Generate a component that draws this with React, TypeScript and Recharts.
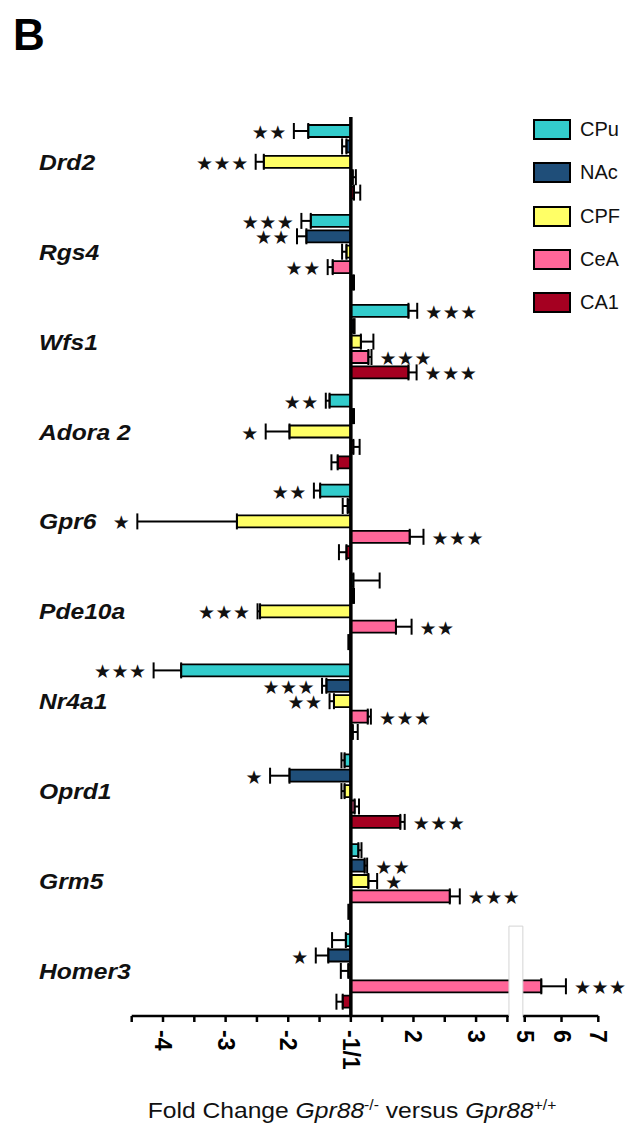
import React from 'react'
import {
  BarChart,
  Bar,
  XAxis,
  YAxis,
  ErrorBar,
  LabelList,
  ReferenceLine,
  ReferenceArea
} from 'recharts'

const FONT = "Arial, 'Liberation Sans', sans-serif"

const genes = ['Drd2', 'Rgs4', 'Wfs1', 'Adora 2', 'Gpr6', 'Pde10a', 'Nr4a1', 'Oprd1', 'Grm5', 'Homer3']
const regions = ['CPu', 'NAc', 'CPF', 'CeA', 'CA1']
const regionColors = ['#33CCCC', '#1F4E79', '#FFFF66', '#FF6699', '#A50021']

// fold change (negative = down), SEM, number of stars ; one value per gene
const cpuFold = [-1.68, -1.64, 1.92, -1.34, -1.49, 1.04, -3.71, -1.1, 1.12, -1.08]
const cpuSem = [0.23, 0.15, 0.14, 0.06, 0.1, 0.42, 0.44, 0.05, 0.05, 0.22]
const cpuStars = [2, 3, 3, 2, 2, 0, 3, 0, 0, 0]

const nacFold = [-1.07, -1.71, 1.04, 1.03, -1.05, 1.03, -1.39, -1.98, 1.22, -1.36]
const nacSem = [0.07, 0.15, 0.02, 0.02, 0.08, 0.02, 0.07, 0.31, 0.04, 0.2]
const nacStars = [0, 2, 0, 0, 0, 0, 3, 1, 2, 1]

const cpfFold = [-2.39, -1.07, 1.16, -1.98, -2.82, -2.45, -1.27, -1.1, 1.28, -1.04]
const cpfSem = [0.13, 0.07, 0.2, 0.38, 1.59, 0.04, 0.07, 0.05, 0.14, 0.12]
const cpfStars = [3, 0, 0, 1, 1, 3, 2, 0, 1, 0]

const ceaFold = [1.03, -1.29, 1.28, 1.04, 1.94, 1.72, 1.27, 1.06, 2.58, 5.45]
const ceaSem = [0.05, 0.08, 0.05, 0.1, 0.22, 0.25, 0.05, 0.07, 0.16, 0.67]
const ceaStars = [0, 2, 3, 0, 3, 2, 3, 0, 3, 3]

const ca1Fold = [1.05, 1.03, 1.92, -1.21, -1.07, -1.02, 1.03, 1.79, -1.02, -1.13]
const ca1Sem = [0.1, 0.02, 0.13, 0.1, 0.12, 0.02, 0.08, 0.07, 0.02, 0.1]
const ca1Stars = [0, 0, 3, 0, 0, 0, 0, 3, 0, 0]

const folds = [cpuFold, nacFold, cpfFold, ceaFold, ca1Fold]
const sems = [cpuSem, nacSem, cpfSem, ceaSem, ca1Sem]
const stars = [cpuStars, nacStars, cpfStars, ceaStars, ca1Stars]

// axis ticks (fold change) and their labels
const tickFolds = [-4.5, -4, -3.5, -3, -2.5, -2, -1.5, -1, 1.5, 2, 2.5, 3, 3.5, 5, 6, 7]
const tickLabels = ['', '-4', '', '-3', '', '-2', '', '-1/1', '', '2', '', '3', '', '5', '6', '7']

// broken axis: -1 and 1 share the same point, compressed part after 5
const BREAK_LOW = 3.5
const BREAK_HIGH = 5
const BREAK_GAP = 0.277
const HIGH_SCALE = 0.5875

function toAxis(fc: number): number {
  if (fc <= -1) return fc + 1
  if (fc <= BREAK_LOW) return fc - 1
  if (fc < BREAK_HIGH) return BREAK_LOW - 1
  return BREAK_LOW - 1 + BREAK_GAP + (fc - BREAK_HIGH) * HIGH_SCALE
}

const tickAxis = tickFolds.map(toAxis)

const rows = genes.map((gene, i) => {
  const row: any = { gene }
  regions.forEach((r, k) => {
    const fc = folds[k][i]
    const e = sems[k][i]
    const v = toAxis(fc)
    const tip = toAxis(fc < 0 ? fc - e : fc + e)
    row[r] = v
    row[r + 'Err'] = fc < 0 ? [v - tip, 0] : [0, tip - v]
    row[r + 'Stars'] = stars[k][i]
  })
  return row
})

function AxisTick(props: any) {
  const { x, y, payload } = props
  const i = tickAxis.findIndex((t) => Math.abs(t - payload.value) < 1e-6)
  const label = i >= 0 ? tickLabels[i] : ''
  if (!label) return null
  const ty = y + 6
  return (
    <text
      x={x}
      y={ty}
      transform={`rotate(90 ${x} ${ty})`}
      textAnchor="start"
      dominantBaseline="central"
      fontSize={23}
      fontWeight="bold"
      fontFamily={FONT}
      fill="#000"
    >
      {label}
    </text>
  )
}

function GeneTick(props: any) {
  const { y, payload } = props
  return (
    <text
      transform={`translate(39 ${y}) scale(1.12 1)`}
      dy="0.36em"
      textAnchor="start"
      fontSize={22}
      fontWeight="bold"
      fontStyle="italic"
      fontFamily={FONT}
      fill="#111"
    >
      {payload.value}
    </text>
  )
}

function makeStars(region: string) {
  return function Stars(props: any) {
    const vb = props.viewBox && props.viewBox.x !== undefined ? props.viewBox : props
    const n = Number(props.value)
    if (!n || props.index === undefined) return null
    const row = rows[props.index]
    const v = row[region]
    const err = row[region + 'Err']
    const left = Math.min(vb.x, vb.x + vb.width)
    const right = Math.max(vb.x, vb.x + vb.width)
    const ppu = Math.abs(vb.width) / Math.abs(v)
    const cy = vb.y + vb.height / 2 + 1
    const text = '★'.repeat(n)
    if (v < 0) {
      const tip = left - err[0] * ppu
      return (
        <text x={tip - 7} y={cy} textAnchor="end" dominantBaseline="central" fontSize={19} letterSpacing={0.5} fontFamily="'DejaVu Sans'" fill="#111">
          {text}
        </text>
      )
    }
    const tip = right + err[1] * ppu
    return (
      <text x={tip + 8} y={cy} textAnchor="start" dominantBaseline="central" fontSize={19} letterSpacing={0.5} fontFamily="'DejaVu Sans'" fill="#111">
        {text}
      </text>
    )
  }
}

function BreakShape(props: any) {
  const { x, y, width, height } = props
  return (
    <g>
      <rect x={x} y={y} width={width} height={height + 3} fill="#fff" />
      <path
        d={`M${x},${y + height} V${y} H${x + width} V${y + height}`}
        stroke="#d4d4d4"
        strokeWidth={1}
        fill="none"
      />
    </g>
  )
}

export default function App() {
  return (
    <div style={{ position: 'absolute', left: 0, top: 0, width: 643, height: 1135, background: '#fff', fontFamily: FONT }}>
      <div style={{ position: 'absolute', left: 13, top: 13, fontSize: 44, lineHeight: '44px', fontWeight: 'bold' }}>B</div>

      <BarChart
        width={643}
        height={1135}
        data={rows}
        layout="vertical"
        margin={{ top: 117, right: 44.7, bottom: 0, left: 39.7 }}
        barSize={12}
        barGap={3.4}
      >
        <XAxis
          type="number"
          domain={[tickAxis[0], tickAxis[tickAxis.length - 1]]}
          ticks={tickAxis}
          interval={0}
          height={119}
          axisLine={{ stroke: '#000', strokeWidth: 2.5 }}
          tickLine={{ stroke: '#000', strokeWidth: 2.5 }}
          tickSize={6}
          tick={<AxisTick />}
        />
        <YAxis
          type="category"
          dataKey="gene"
          width={92}
          axisLine={false}
          tickLine={false}
          tick={<GeneTick />}
          interval={0}
        />
        {regions.map((r, k) => (
          <Bar
            key={r}
            dataKey={r}
            name={r}
            fill={regionColors[k]}
            stroke="#000"
            strokeWidth={1.8}
            isAnimationActive={false}
          >
            <ErrorBar dataKey={r + 'Err'} direction="x" width={8} stroke="#000" strokeWidth={2} />
            <LabelList dataKey={r + 'Stars'} content={makeStars(r)} />
          </Bar>
        ))}
        <ReferenceLine x={0} stroke="#000" strokeWidth={3.5} zIndex={900} />
        <ReferenceArea
          x1={toAxis(BREAK_LOW) + 0.025}
          x2={toAxis(BREAK_HIGH) - 0.03}
          y1="Homer3"
          shape={<BreakShape />}
          zIndex={1000}
        />
      </BarChart>

      {regions.map((r, k) => (
        <div key={r}>
          <div
            style={{
              position: 'absolute',
              left: 533,
              top: 119 + k * 43.25,
              width: 38,
              height: 21,
              boxSizing: 'border-box',
              border: '2px solid #000',
              background: regionColors[k]
            }}
          />
          <div style={{ position: 'absolute', left: 580, top: 119 + k * 43.25, fontSize: 20, lineHeight: '21px', color: '#111' }}>
            {r}
          </div>
        </div>
      ))}

      <div
        style={{
          position: 'absolute',
          left: 0,
          top: 1100,
          width: 704,
          textAlign: 'center',
          fontSize: 22,
          lineHeight: '22px',
          color: '#111',
          transform: 'scaleX(1.12)',
          transformOrigin: '352px 0'
        }}
      >
        Fold Change <i>Gpr88</i>
        <sup style={{ fontSize: 14, lineHeight: 0 }}>-/-</sup> versus <i>Gpr88</i>
        <sup style={{ fontSize: 14, lineHeight: 0 }}>+/+</sup>
      </div>
    </div>
  )
}
